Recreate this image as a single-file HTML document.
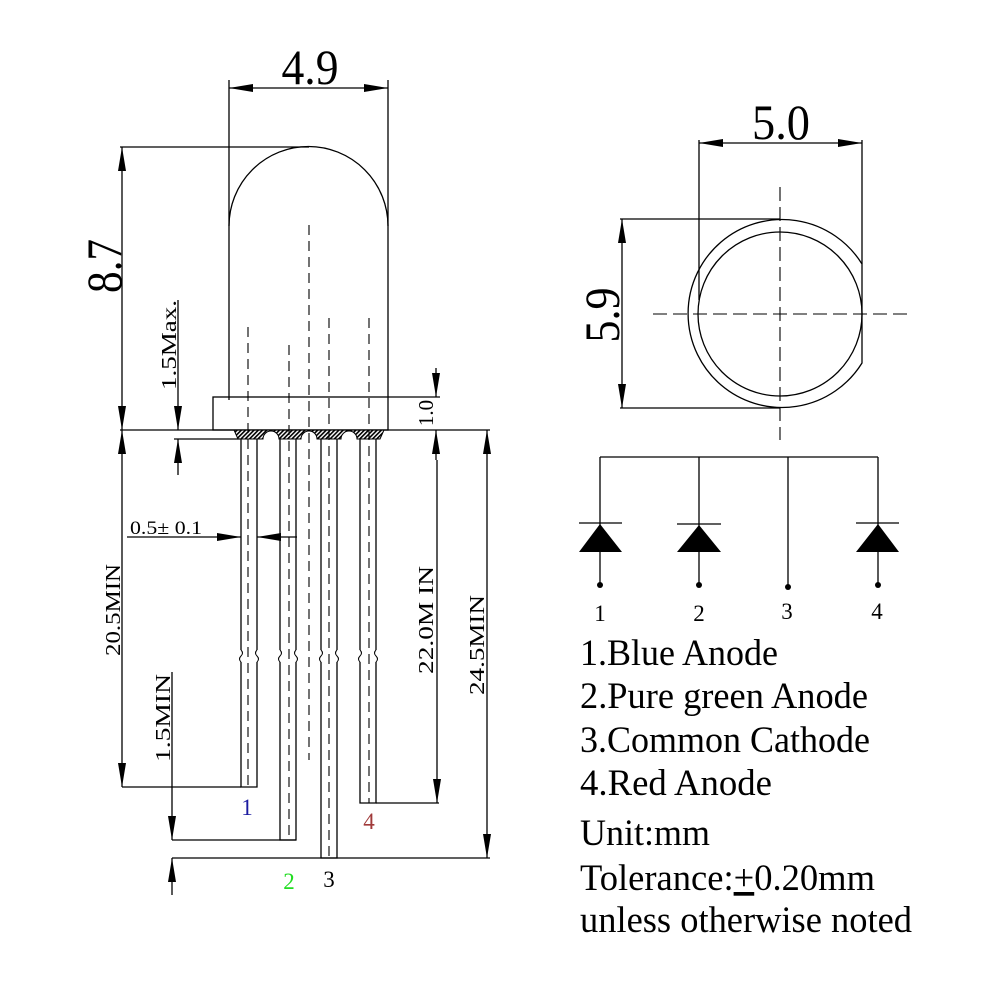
<!DOCTYPE html>
<html><head><meta charset="utf-8"><style>html,body{margin:0;padding:0;background:#fff}svg{display:block}</style></head>
<body>
<svg width="1000" height="1000" viewBox="0 0 1000 1000" xmlns="http://www.w3.org/2000/svg" font-family="'Liberation Serif', serif">
<defs>
<marker id="a" viewBox="0 0 24 8" refX="24" refY="4" markerWidth="24" markerHeight="8" markerUnits="userSpaceOnUse" orient="auto-start-reverse"><path d="M0,0 L24,4 L0,8 z" fill="#000"/></marker>
<pattern id="h" width="3" height="3" patternUnits="userSpaceOnUse" patternTransform="rotate(45)"><rect width="3" height="3" fill="#fff"/><rect width="1.6" height="3" fill="#000"/></pattern>
</defs>
<g stroke="#000" stroke-width="1.3" fill="none">
<path d="M229,400 L229,226 A79.5,79.5 0 0 1 388,226 L388,397"/>
<rect x="213" y="397" width="175" height="33"/>
<path d="M234,430 L384,430 L380,439 L357,439 A8,8 0 0 0 341,439 L317,439 A8,8 0 0 0 301,439 L279,439 A8,8 0 0 0 263,439 L238,439 Z" fill="url(#h)" stroke-width="1"/>
<path d="M241,439 V650 M241,662 V787 H257 V662 M257,650 V439"/>
<path d="M280,439 V650 M280,662 V840 H296 V662 M296,650 V439"/>
<path d="M321,439 V650 M321,662 V858 H337 V662 M337,650 V439"/>
<path d="M360,439 V650 M360,662 V803 H376 V662 M376,650 V439"/>
<path d="M241,650 q3,3 0,6 q-3,3 0,6 M257,650 q-3,3 0,6 q3,3 0,6 M280,650 q3,3 0,6 q-3,3 0,6 M296,650 q-3,3 0,6 q3,3 0,6 M321,650 q3,3 0,6 q-3,3 0,6 M337,650 q-3,3 0,6 q3,3 0,6 M360,650 q3,3 0,6 q-3,3 0,6 M376,650 q-3,3 0,6 q3,3 0,6" stroke-width="1"/>
<g stroke-dasharray="10,6" stroke-width="1.1">
<path d="M248,327 V787 M289,345 V840 M329,318 V858 M369,318 V803 M309,225 V760"/>
</g>
<path d="M229,80 V226 M388,80 V226"/>
<line x1="229" y1="88" x2="388" y2="88" marker-start="url(#a)" marker-end="url(#a)"/>
<path d="M120,147 H309"/>
<line x1="122" y1="147" x2="122" y2="430" marker-start="url(#a)" marker-end="url(#a)"/>
<path d="M120,430 H490"/>
<line x1="178" y1="300" x2="178" y2="430" marker-end="url(#a)"/>
<line x1="178" y1="475" x2="178" y2="439" marker-end="url(#a)"/>
<path d="M174,439 H240"/>
<path d="M388,397 H440"/>
<line x1="436" y1="368" x2="436" y2="397" marker-end="url(#a)"/>
<line x1="436" y1="460" x2="436" y2="430" marker-end="url(#a)"/>
<line x1="127" y1="537" x2="241" y2="537" marker-end="url(#a)"/>
<line x1="297" y1="537" x2="257" y2="537" marker-end="url(#a)"/>
<line x1="122" y1="430" x2="122" y2="787" marker-start="url(#a)" marker-end="url(#a)"/>
<path d="M122,787 H241"/>
<line x1="437" y1="460" x2="437" y2="803" marker-end="url(#a)"/>
<path d="M376,803 H439"/>
<line x1="487" y1="430" x2="487" y2="858" marker-start="url(#a)" marker-end="url(#a)"/>
<path d="M172,858 H490 M172,840 H296"/>
<line x1="172" y1="672" x2="172" y2="840" marker-end="url(#a)"/>
<line x1="172" y1="895" x2="172" y2="858" marker-end="url(#a)"/>
<path d="M862,264 A94,94 0 1 0 862,363 Z"/>
<circle cx="780" cy="314" r="82"/>
<g stroke-dasharray="14,6" stroke-width="1.1"><path d="M653,314 H908 M780,187 V440"/></g>
<path d="M699,140 V300 M862,140 V264"/>
<line x1="699" y1="143" x2="862" y2="143" marker-start="url(#a)" marker-end="url(#a)"/>
<path d="M620,219 H780 M620,408 H780"/>
<line x1="622" y1="219" x2="622" y2="408" marker-start="url(#a)" marker-end="url(#a)"/>
<path d="M600,457 H878 M600,457 V585 M699,457 V585 M788,457 V587 M878,457 V585"/>
<path d="M579,523 H622 M677,524 H721 M856,523 H899"/>
</g>
<g fill="#000">
<path d="M600,524 L622,552 L579,552 Z M699,525 L721,552 L677,552 Z M878,524 L899,552 L856,552 Z"/>
<circle cx="600" cy="585" r="3"/><circle cx="699" cy="585" r="3"/><circle cx="788" cy="587" r="3"/><circle cx="878" cy="585" r="3"/>
</g>
<g font-size="50" fill="#000">
<text x="310" y="84" text-anchor="middle" textLength="57" lengthAdjust="spacingAndGlyphs">4.9</text>
<text x="781" y="139" text-anchor="middle" textLength="58" lengthAdjust="spacingAndGlyphs">5.0</text>
<text transform="translate(121,266) rotate(-90)" text-anchor="middle" textLength="54" lengthAdjust="spacingAndGlyphs">8.7</text>
<text transform="translate(619,315) rotate(-90)" text-anchor="middle" textLength="55" lengthAdjust="spacingAndGlyphs">5.9</text>
</g>
<g font-size="21" fill="#000">
<text transform="translate(176,345) rotate(-90)" text-anchor="middle" textLength="90" lengthAdjust="spacingAndGlyphs">1.5Max.</text>
<text transform="translate(433,413) rotate(-90)" text-anchor="middle">1.0</text>
<text x="130" y="534" font-size="19" textLength="72" lengthAdjust="spacingAndGlyphs">0.5± 0.1</text>
<text transform="translate(120,610) rotate(-90)" text-anchor="middle" textLength="92" lengthAdjust="spacingAndGlyphs">20.5MIN</text>
<text transform="translate(170,718) rotate(-90)" text-anchor="middle" textLength="88" lengthAdjust="spacingAndGlyphs">1.5MIN</text>
<text transform="translate(433,620) rotate(-90)" text-anchor="middle" textLength="108" lengthAdjust="spacingAndGlyphs">22.0M IN</text>
<text transform="translate(484,645) rotate(-90)" text-anchor="middle" textLength="100" lengthAdjust="spacingAndGlyphs">24.5MIN</text>
<text x="247" y="815" text-anchor="middle" fill="#1a1aa0" font-size="23">1</text>
<text x="289" y="889" text-anchor="middle" fill="#22dd22" font-size="23">2</text>
<text x="329" y="887" text-anchor="middle" font-size="23">3</text>
<text x="369" y="829" text-anchor="middle" fill="#a03a3a" font-size="23">4</text>
<text x="600" y="621" text-anchor="middle" font-size="23">1</text>
<text x="699" y="621" text-anchor="middle" font-size="23">2</text>
<text x="787" y="619" text-anchor="middle" font-size="23">3</text>
<text x="877" y="619" text-anchor="middle" font-size="23">4</text>
</g>
<g font-size="37" fill="#000">
<text x="580" y="665" textLength="198" lengthAdjust="spacingAndGlyphs">1.Blue Anode</text>
<text x="580" y="708" textLength="288" lengthAdjust="spacingAndGlyphs">2.Pure green Anode</text>
<text x="580" y="752" textLength="290" lengthAdjust="spacingAndGlyphs">3.Common Cathode</text>
<text x="580" y="795" textLength="192" lengthAdjust="spacingAndGlyphs">4.Red Anode</text>
<text x="580" y="845" textLength="130" lengthAdjust="spacingAndGlyphs">Unit:mm</text>
<text x="580" y="890" textLength="295" lengthAdjust="spacingAndGlyphs">Tolerance:<tspan text-decoration="underline">+</tspan>0.20mm</text>
<text x="580" y="932" textLength="332" lengthAdjust="spacingAndGlyphs">unless otherwise noted</text>
</g>
</svg>
</body></html>
